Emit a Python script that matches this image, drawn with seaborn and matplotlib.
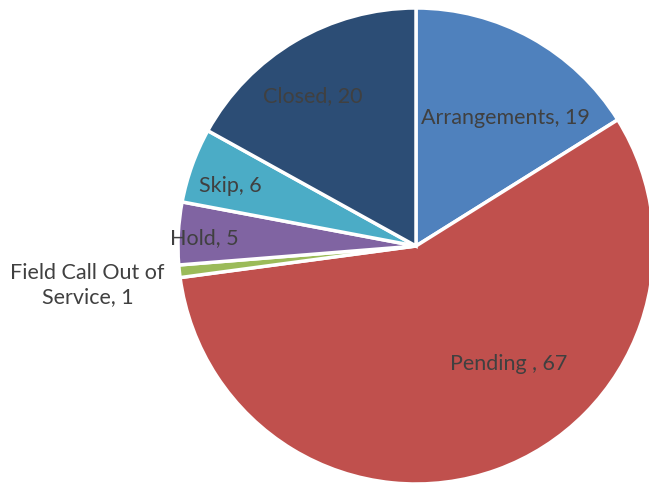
import matplotlib
matplotlib.use('Agg')
import matplotlib.pyplot as plt
import seaborn as sns

sns.set_style('white')
plt.rcParams['font.family'] = ['Lato', 'DejaVu Sans']

# Status counts, clockwise from 12 o'clock
statuses = ['Arrangements', 'Pending ', 'Field Call Out of\nService', 'Hold', 'Skip', 'Closed']
counts = [19, 67, 1, 5, 6, 20]
colors = ['#4F81BD', '#C0504D', '#9BBB59', '#8064A2', '#4BACC6', '#2C4D75']

# label placement (axes data units, pie radius = 1)
label_pos = [(0.374, 0.538), (0.39, -0.496), (-1.38, -0.164),
             (-0.89, 0.034), (-0.78, 0.252), (-0.433, 0.630)]

fig = plt.figure(figsize=(6.49, 4.83), dpi=100)
cx, cy, r = 416, 246, 238
ax = fig.add_axes([(cx - r) / 649, (483 - cy - r) / 483, 2 * r / 649, 2 * r / 483])

wedges, _ = ax.pie(counts, colors=colors, startangle=90, counterclock=False,
                   radius=1, wedgeprops=dict(edgecolor='white', linewidth=2.5))

for name, val, (x, y) in zip(statuses, counts, label_pos):
    ax.text(x, y, f'{name}, {val}', ha='center', va='center',
            fontsize=15.5, color='#404040', multialignment='center',
            linespacing=1.25)

ax.set_xlim(-1, 1)
ax.set_ylim(-1, 1)
ax.set_aspect('equal')
ax.axis('off')

fig.savefig('out.png', dpi=100)
